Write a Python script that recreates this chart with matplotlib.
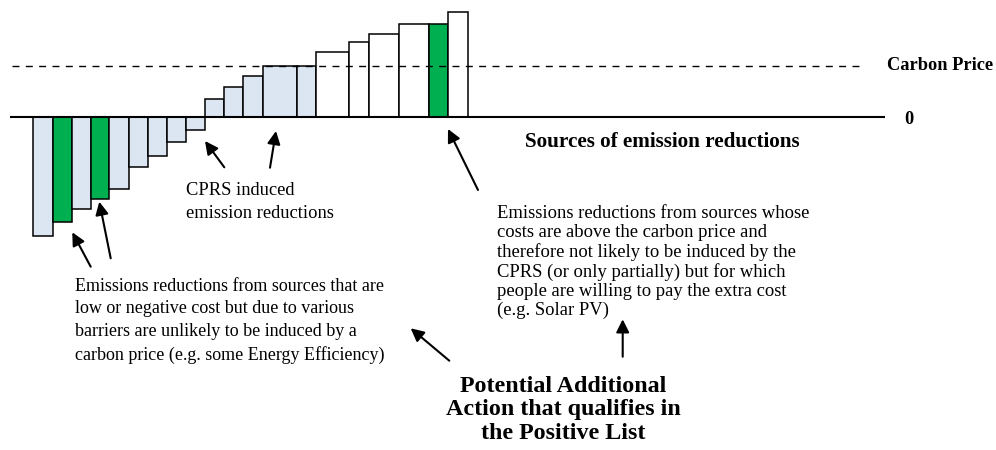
import matplotlib
matplotlib.use("Agg")
import matplotlib.pyplot as plt
import numpy as np

# ---- data ----
# bar widths (abatement quantity, arbitrary units) and costs ($/t, carbon price = 25)
widths = [1.05, 0.96, 1.0, 0.98, 1.03, 0.98, 1.01, 1.0, 1.0, 1.0, 1.0, 1.01, 1.8, 1.0, 1.76, 1.02, 1.57, 1.59, 1.01, 1.03]
costs = [-57.5, -50.6, -44.4, -39.6, -34.9, -24.2, -18.6, -12.1, -6.2, 8.9, 14.5, 20.2,
         25.0, 25.0, 31.5, 36.3, 40.5, 45.2, 45.2, 50.9]
categories = ["barrier", "positive", "barrier", "positive", "barrier", "barrier", "barrier", "barrier", "barrier",
              "cprs", "cprs", "cprs", "cprs", "cprs",
              "above", "above", "above", "above", "positive", "above"]
carbon_price = 25.0

colors = {"barrier": "#DCE6F2", "cprs": "#DCE6F2", "positive": "#00B050", "above": "#FFFFFF"}

W, H = 996, 450
fig = plt.figure(figsize=(W / 100, H / 100), dpi=100)
ax = fig.add_axes([0, 0, 1, 1])

xu = 19.07   # px per x unit
yu = 2.064   # px per y unit
x0px, y0px = 33.3, 117.3
ax.set_xlim(-x0px / xu, (W - x0px) / xu)
ax.set_ylim(-(H - y0px) / yu, y0px / yu)
ax.axis("off")

lefts = np.concatenate([[0], np.cumsum(widths)[:-1]])
ax.bar(lefts, costs, width=widths, align="edge",
       color=[colors[c] for c in categories], edgecolor="black", linewidth=1.1, zorder=2)

def px2x(px):
    return (px - x0px) / xu

# zero line and carbon price line
ax.plot([px2x(10), px2x(885)], [0, 0], color="black", lw=1.5, zorder=3, solid_capstyle="butt")
ax.plot([px2x(12), px2x(861)], [carbon_price, carbon_price], color="black", lw=1.0,
        linestyle=(0, (5, 4.6)), zorder=3)

serif = ["Liberation Serif", "DejaVu Serif"]

def F(x, y):
    return (x / W, 1 - y / H)

fig.text(*F(887, 66), "Carbon Price", fontsize=13.2, fontweight="bold", family=serif, ha="left", va="center")
fig.text(*F(904, 120), "0", fontsize=13.2, fontweight="bold", family=serif, ha="left", va="center")
fig.text(*F(525, 142), "Sources of emission reductions", fontsize=15.2, fontweight="bold", family=serif,
         ha="left", va="center")

fig.text(*F(186, 202), "CPRS induced\nemission reductions", fontsize=13.3, family=serif,
         ha="left", va="center", linespacing=1.40)

fig.text(*F(75, 321), "Emissions reductions from sources that are\nlow or negative cost but due to various\n"
         "barriers are unlikely to be induced by a\ncarbon price (e.g. some Energy Efficiency)",
         fontsize=13.0, family=serif, ha="left", va="center", linespacing=1.44)

fig.text(*F(497, 262), "Emissions reductions from sources whose\ncosts are above the carbon price and\n"
         "therefore not likely to be induced by the\nCPRS (or only partially) but for which\n"
         "people are willing to pay the extra cost\n(e.g. Solar PV)",
         fontsize=13.4, family=serif, ha="left", va="center", linespacing=1.15)

fig.text(*F(563, 410), "Potential Additional\nAction that qualifies in\nthe Positive List",
         fontsize=17.3, fontweight="bold", family=serif, ha="center", va="center", linespacing=1.18)

arrows = [
    ((72.3, 232.3), (90.7, 266.7)),
    ((99.3, 201.7), (110.7, 258.3)),
    ((205, 141), (224.3, 167.3)),
    ((276, 131), (270, 167.7)),
    ((448, 129), (478, 190)),
    ((622.7, 319.3), (622.7, 356.7)),
    ((410.7, 328.3), (449.3, 360.7)),
]
for head, tail in arrows:
    fig.add_artist(matplotlib.patches.FancyArrowPatch(
        F(*tail), F(*head), transform=fig.transFigure,
        arrowstyle="-|>,head_length=6,head_width=3", color="black", lw=1.5,
        shrinkA=0, shrinkB=0, mutation_scale=1.3))

fig.savefig("out.png", dpi=100)
